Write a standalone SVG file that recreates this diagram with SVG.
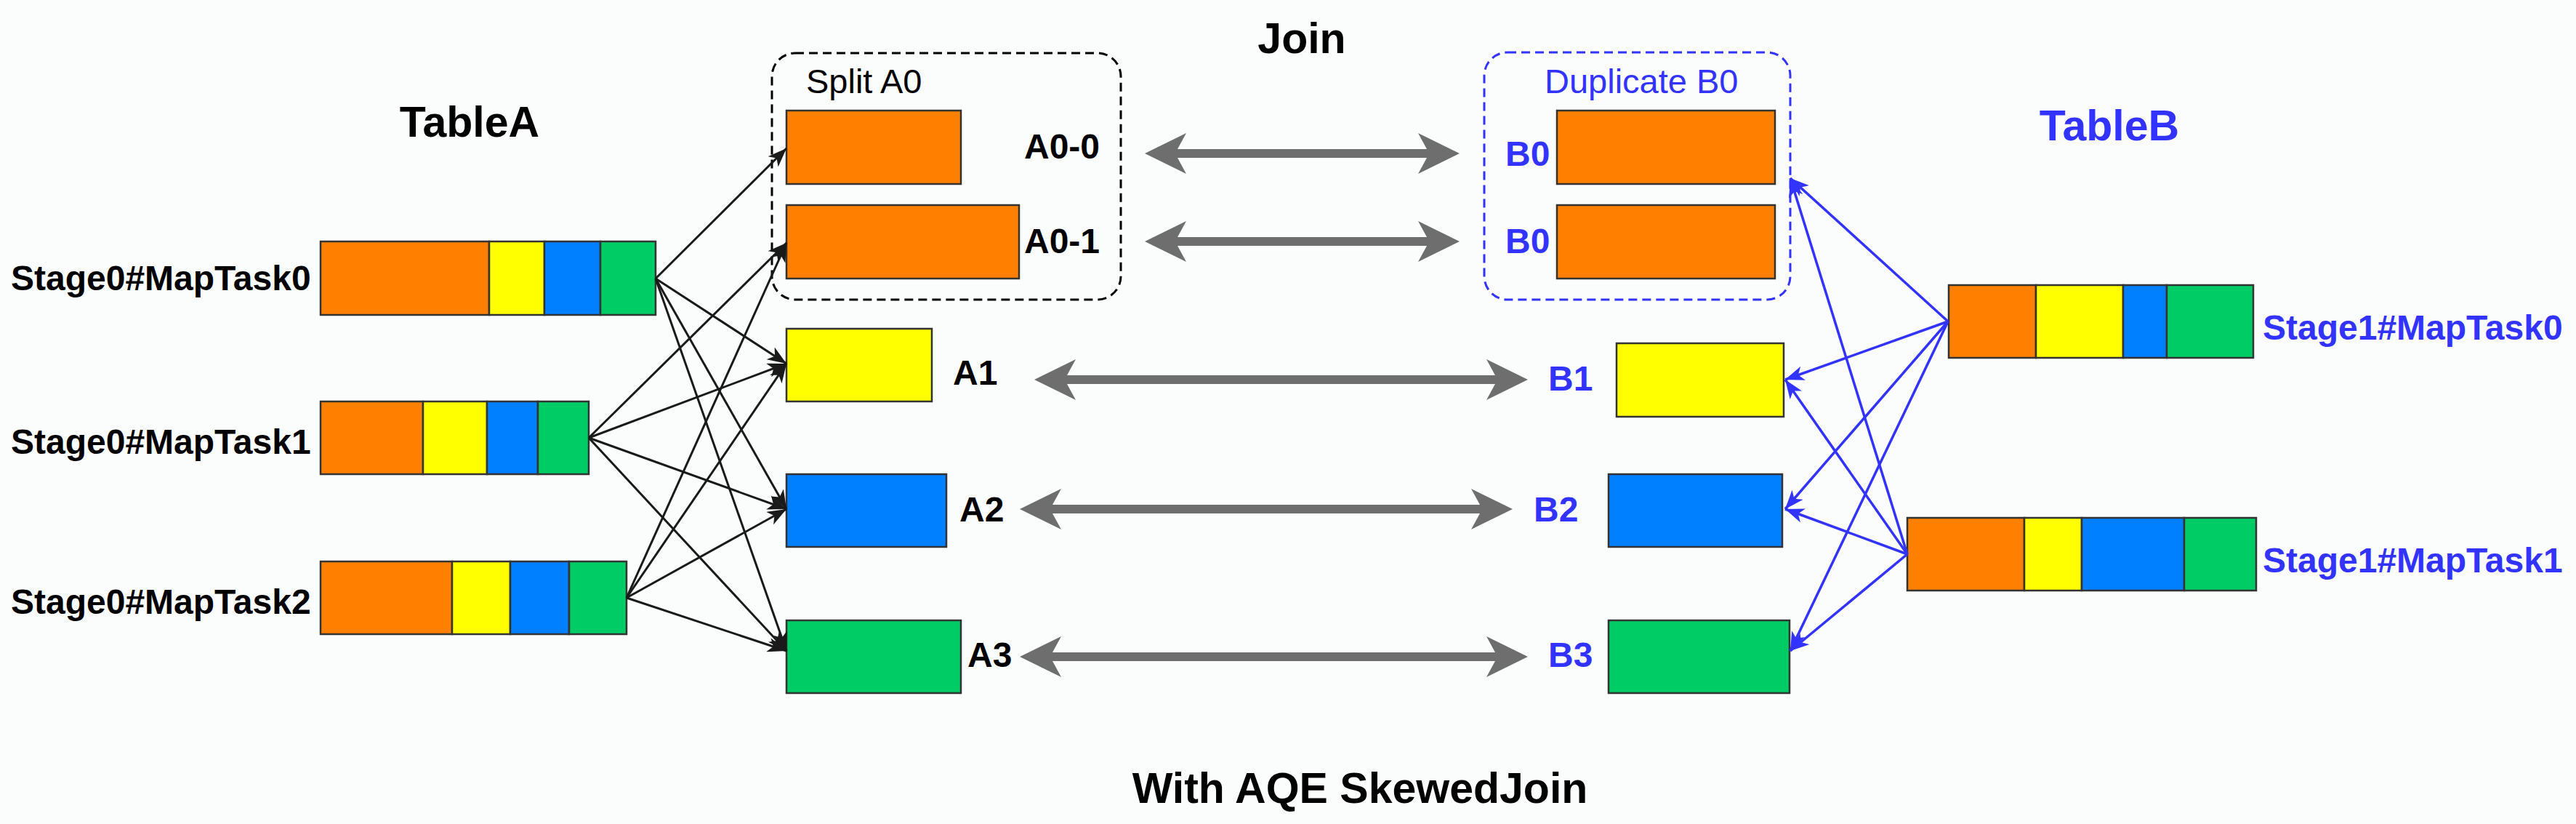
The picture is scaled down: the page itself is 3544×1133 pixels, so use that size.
<svg xmlns="http://www.w3.org/2000/svg" width="3544" height="1133" viewBox="0 0 3544 1133">
<style>
.bg{fill:#fbfcfc}
.seg{stroke:#333333;stroke-width:2.5}
.o{fill:#ff8000}.y{fill:#ffff00}.b{fill:#007fff}.g{fill:#00cc66}
.t{font-family:"Liberation Sans",Arial,Helvetica,sans-serif;font-weight:bold;font-size:48px;fill:#000}
.reg{font-family:"Liberation Sans",Arial,Helvetica,sans-serif;font-size:47px;fill:#000}
.big{font-size:59px}
.task{font-size:48px}
text.tb{fill:#3333ff}
.dash{fill:none;stroke-width:3;stroke-dasharray:12 7}
.k{stroke:#1a1a1a;stroke-width:3;fill:none;marker-end:url(#ak)}
.u{stroke:#3333ff;stroke-width:3.5;fill:none;marker-end:url(#au)}
.gr{fill:#6e6e6e}
</style>
<defs>
<marker id="ak" viewBox="0 0 26 20" refX="26" refY="10" markerWidth="26" markerHeight="20" markerUnits="userSpaceOnUse" orient="auto">
<path d="M0,0 L26,10 L0,20 L7,10 z" fill="#1a1a1a"/>
</marker>
<marker id="au" viewBox="0 0 26 20" refX="26" refY="10" markerWidth="26" markerHeight="20" markerUnits="userSpaceOnUse" orient="auto">
<path d="M0,0 L26,10 L0,20 L7,10 z" fill="#3333ff"/>
</marker>
</defs>
<rect class="bg" x="0" y="0" width="3544" height="1133"/>

<g id="titles">
<text class="t big" x="1791" y="73" text-anchor="middle">Join</text>
<text class="t big" x="646" y="188" text-anchor="middle">TableA</text>
<text class="t big tb" x="2902" y="193" text-anchor="middle">TableB</text>
<text class="t big" x="1871" y="1104" text-anchor="middle">With AQE SkewedJoin</text>
</g>

<g id="stage0-maptask0">
<rect class="seg o" x="441" y="332" width="232" height="101"/>
<rect class="seg y" x="673" y="332" width="76" height="101"/>
<rect class="seg b" x="749" y="332" width="77" height="101"/>
<rect class="seg g" x="826" y="332" width="76" height="101"/>
<text class="t task" x="15" y="399">Stage0#MapTask0</text>
</g>
<g id="stage0-maptask1">
<rect class="seg o" x="441" y="552" width="141" height="100"/>
<rect class="seg y" x="582" y="552" width="88" height="100"/>
<rect class="seg b" x="670" y="552" width="70" height="100"/>
<rect class="seg g" x="740" y="552" width="70" height="100"/>
<text class="t task" x="15" y="624">Stage0#MapTask1</text>
</g>
<g id="stage0-maptask2">
<rect class="seg o" x="441" y="772" width="181" height="100"/>
<rect class="seg y" x="622" y="772" width="80" height="100"/>
<rect class="seg b" x="702" y="772" width="81" height="100"/>
<rect class="seg g" x="783" y="772" width="79" height="100"/>
<text class="t task" x="15" y="844">Stage0#MapTask2</text>
</g>

<g id="split-a0">
<rect class="dash" stroke="#000" x="1062" y="73" width="480" height="339" rx="32"/>
<text class="reg" x="1109" y="128">Split A0</text>
</g>
<g id="a0-0">
<rect class="seg o" x="1082" y="152" width="240" height="101"/>
<text class="t" x="1409" y="218">A0-0</text>
</g>
<g id="a0-1">
<rect class="seg o" x="1082" y="282" width="320" height="101"/>
<text class="t" x="1409" y="348">A0-1</text>
</g>
<g id="a1">
<rect class="seg y" x="1082" y="452" width="200" height="100"/>
<text class="t" x="1311" y="529">A1</text>
</g>
<g id="a2">
<rect class="seg b" x="1082" y="652" width="220" height="100"/>
<text class="t" x="1320" y="717">A2</text>
</g>
<g id="a3">
<rect class="seg g" x="1082" y="853" width="240" height="100"/>
<text class="t" x="1331" y="917">A3</text>
</g>

<g id="duplicate-b0">
<rect class="dash" stroke="#3333ff" x="2042" y="72" width="421" height="340" rx="32"/>
<text class="reg tb" x="2125" y="128">Duplicate B0</text>
</g>
<g id="b0-0">
<rect class="seg o" x="2142" y="152" width="300" height="101"/>
<text class="t tb" x="2071" y="228">B0</text>
</g>
<g id="b0-1">
<rect class="seg o" x="2142" y="282" width="300" height="101"/>
<text class="t tb" x="2071" y="348">B0</text>
</g>
<g id="b1">
<rect class="seg y" x="2224" y="472" width="230" height="101"/>
<text class="t tb" x="2130" y="537">B1</text>
</g>
<g id="b2">
<rect class="seg b" x="2213" y="652" width="239" height="100"/>
<text class="t tb" x="2110" y="717">B2</text>
</g>
<g id="b3">
<rect class="seg g" x="2213" y="853" width="249" height="100"/>
<text class="t tb" x="2130" y="917">B3</text>
</g>

<g id="stage1-maptask0">
<rect class="seg o" x="2681" y="392" width="120" height="100"/>
<rect class="seg y" x="2801" y="392" width="120" height="100"/>
<rect class="seg b" x="2921" y="392" width="60" height="100"/>
<rect class="seg g" x="2981" y="392" width="119" height="100"/>
<text class="t task tb" x="3113" y="467">Stage1#MapTask0</text>
</g>
<g id="stage1-maptask1">
<rect class="seg o" x="2624" y="712" width="161" height="100"/>
<rect class="seg y" x="2785" y="712" width="79" height="100"/>
<rect class="seg b" x="2864" y="712" width="141" height="100"/>
<rect class="seg g" x="3005" y="712" width="99" height="100"/>
<text class="t task tb" x="3113" y="787">Stage1#MapTask1</text>
</g>

<g id="connectors">
<path class="k" d="M902,383 L1082,204"/>
<path class="k" d="M902,383 L1082,500"/>
<path class="k" d="M902,383 L1082,700"/>
<path class="k" d="M902,383 L1082,895"/>
<path class="k" d="M810,602 L1082,334"/>
<path class="k" d="M810,602 L1082,500"/>
<path class="k" d="M810,602 L1082,700"/>
<path class="k" d="M810,602 L1082,895"/>
<path class="k" d="M862,822 L1082,334"/>
<path class="k" d="M862,822 L1082,500"/>
<path class="k" d="M862,822 L1082,700"/>
<path class="k" d="M862,822 L1082,895"/>

<path class="u" d="M2680,442 L2463,245"/>
<path class="u" d="M2680,442 L2456,522"/>
<path class="u" d="M2680,442 L2456,700"/>
<path class="u" d="M2680,442 L2463,895"/>
<path class="u" d="M2624,762 L2463,245"/>
<path class="u" d="M2624,762 L2456,522"/>
<path class="u" d="M2624,762 L2456,700"/>
<path class="u" d="M2624,762 L2463,895"/>

<polygon class="gr" points="1575,211 1632,183 1620,205 1963,205 1951,183 2008,211 1951,239 1963,217 1620,217 1632,239"/>
<polygon class="gr" points="1575,332 1632,304 1620,326 1963,326 1951,304 2008,332 1951,360 1963,338 1620,338 1632,360"/>
<polygon class="gr" points="1423,522 1480,494 1468,516 2057,516 2045,494 2102,522 2045,550 2057,528 1468,528 1480,550"/>
<polygon class="gr" points="1403,700 1460,672 1448,694 2036,694 2024,672 2081,700 2024,728 2036,706 1448,706 1460,728"/>
<polygon class="gr" points="1403,903 1460,875 1448,897 2057,897 2045,875 2102,903 2045,931 2057,909 1448,909 1460,931"/>
</g>
</svg>
